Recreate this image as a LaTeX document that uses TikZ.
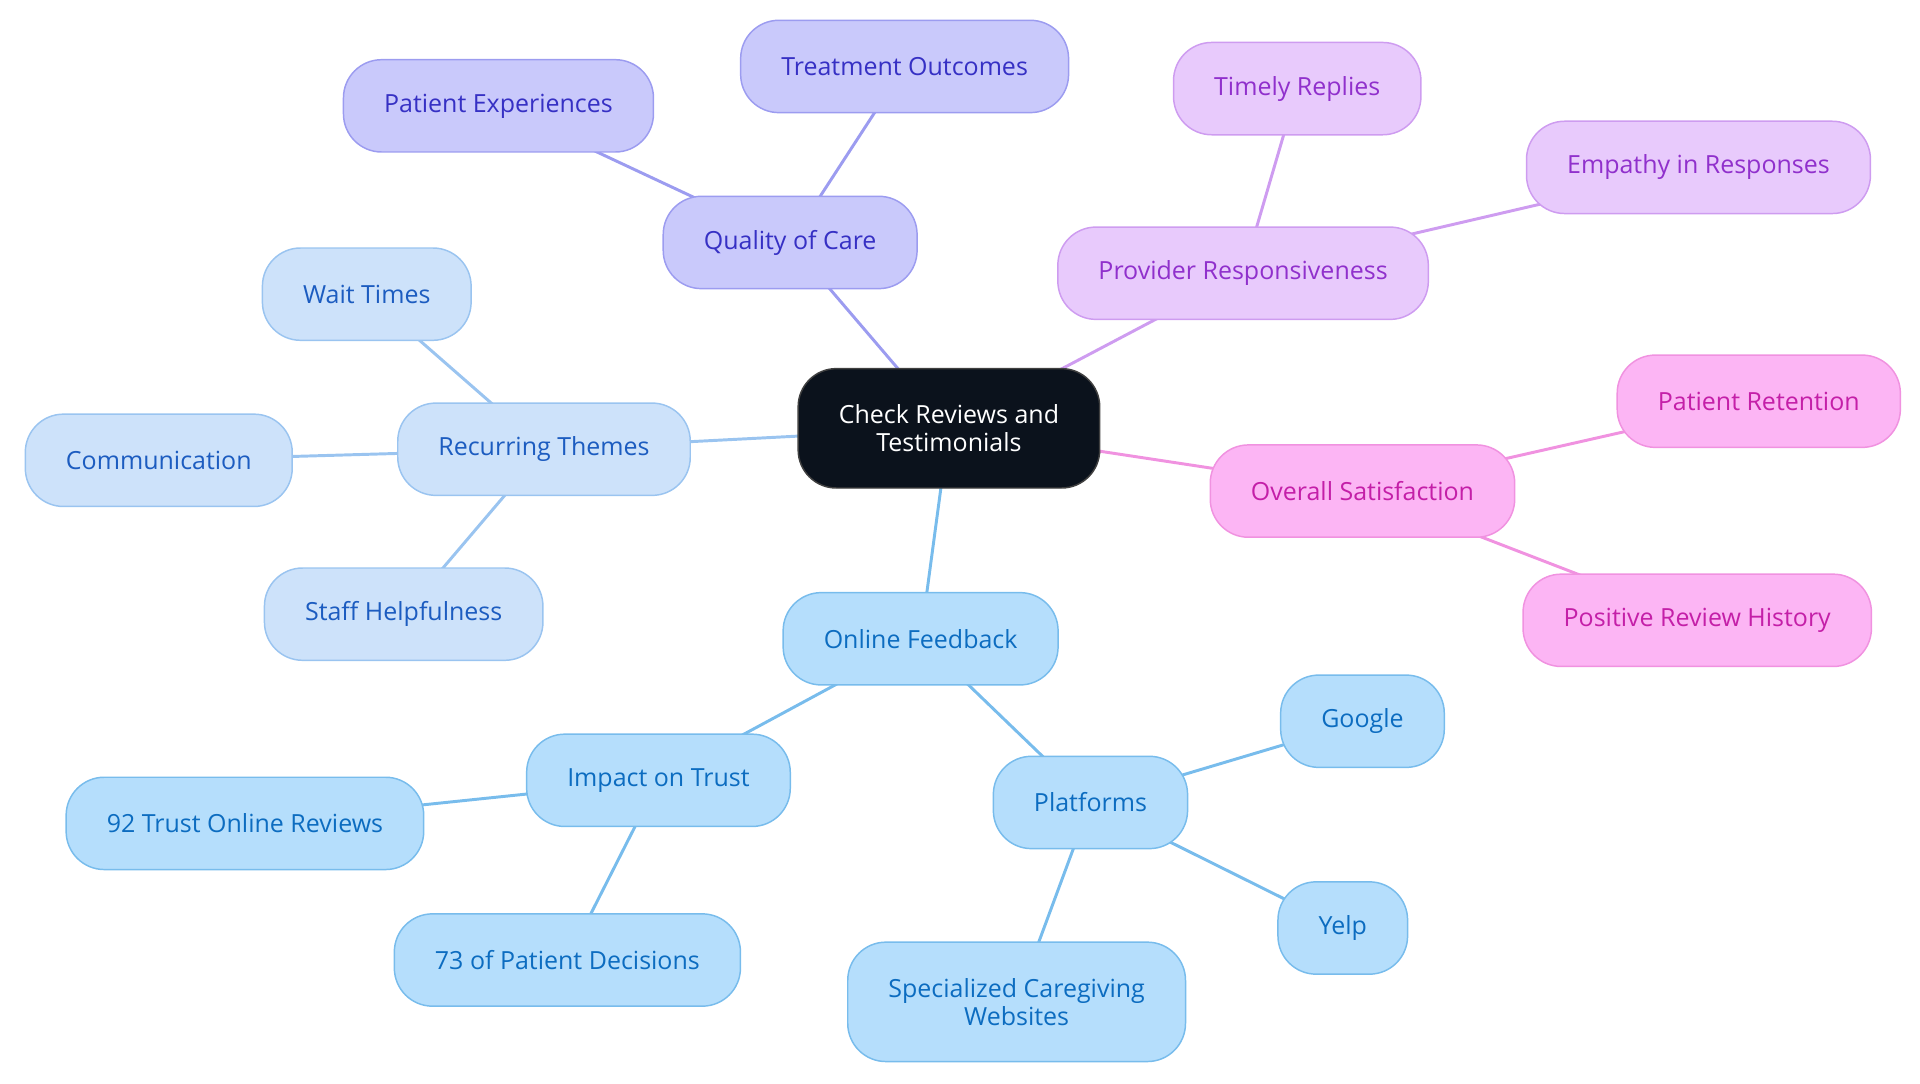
\documentclass[tikz,border=0pt]{standalone}
\usepackage{fontspec}
\setmainfont{Open Sans}
\usetikzlibrary{backgrounds}
\definecolor{qualfill}{HTML}{C9C9FB}
\definecolor{qualline}{HTML}{9C9CF0}
\definecolor{qualtext}{HTML}{3630C4}
\definecolor{provfill}{HTML}{E8CAFC}
\definecolor{provline}{HTML}{CE9CF0}
\definecolor{provtext}{HTML}{9030CC}
\definecolor{satfill}{HTML}{FCB5F4}
\definecolor{satline}{HTML}{F092E0}
\definecolor{sattext}{HTML}{C41FA8}
\definecolor{themefill}{HTML}{CDE2FA}
\definecolor{themeline}{HTML}{9AC4F0}
\definecolor{themetext}{HTML}{1C5CC0}
\definecolor{feedfill}{HTML}{B5DEFC}
\definecolor{feedline}{HTML}{78BCEC}
\definecolor{feedtext}{HTML}{0C6CC0}
\definecolor{rootfill}{HTML}{0B121C}
\begin{document}
\begin{tikzpicture}[x=1pt,y=-1pt,
  bubble/.style={rounded corners=31pt, line width=1.2pt, minimum height=75pt,
    inner xsep=33pt, align=center, font=\fontsize{20.3}{23}\selectfont},
  root/.style={bubble, fill=rootfill, draw=black!75, text=white, minimum height=97pt, inner xsep=33pt},
  qual/.style={bubble, fill=qualfill, draw=qualline, text=qualtext},
  prov/.style={bubble, fill=provfill, draw=provline, text=provtext},
  sat/.style={bubble, fill=satfill, draw=satline, text=sattext},
  theme/.style={bubble, fill=themefill, draw=themeline, text=themetext},
  feed/.style={bubble, fill=feedfill, draw=feedline, text=feedtext},
  link/.style={line width=2.4pt}]
\useasboundingbox (0,0) rectangle (1560,880);
% centre
\node[root] (check) at (771,348) {Check Reviews and\\Testimonials};
% quality of care
\node[qual] (quality) at (642,197) {Quality of Care};
\node[qual] (experiences) at (405,86) {Patient Experiences};
\node[qual] (outcomes) at (735,54) {Treatment Outcomes};
% provider responsiveness
\node[prov] (provider) at (1010,222) {Provider Responsiveness};
\node[prov] (replies) at (1054,72) {Timely Replies};
\node[prov] (empathy) at (1380,136) {Empathy in Responses};
% overall satisfaction
\node[sat] (satisfaction) at (1107,399) {Overall Satisfaction};
\node[sat] (retention) at (1429,326) {Patient Retention};
\node[sat] (history) at (1379,504) {Positive Review History};
% recurring themes
\node[theme] (themes) at (442,365) {Recurring Themes};
\node[theme] (wait) at (298,239) {Wait Times};
\node[theme] (communication) at (129,374) {Communication};
\node[theme] (staff) at (328,499) {Staff Helpfulness};
% online feedback
\node[feed] (online) at (748,519) {Online Feedback};
\node[feed] (trust) at (535,634) {Impact on Trust};
\node[feed] (trust92) at (199,669) {92 Trust Online Reviews};
\node[feed] (decisions73) at (461,780) {73 of Patient Decisions};
\node[feed] (platforms) at (886,652) {Platforms};
\node[feed] (google) at (1107,586) {Google};
\node[feed] (yelp) at (1091,754) {Yelp};
\node[feed, minimum height=97pt] (websites) at (826,814) {Specialized Caregiving\\Websites};
\begin{scope}[on background layer]
\draw[link, qualline] (check.center) -- (quality.center);
\draw[link, qualline] (quality.center) -- (experiences.center);
\draw[link, qualline] (quality.center) -- (outcomes.center);
\draw[link, provline] (check.center) -- (provider.center);
\draw[link, provline] (provider.center) -- (replies.center);
\draw[link, provline] (provider.center) -- (empathy.center);
\draw[link, satline] (check.center) -- (satisfaction.center);
\draw[link, satline] (satisfaction.center) -- (retention.center);
\draw[link, satline] (satisfaction.center) -- (history.center);
\draw[link, themeline] (check.center) -- (themes.center);
\draw[link, themeline] (themes.center) -- (wait.center);
\draw[link, themeline] (themes.center) -- (communication.center);
\draw[link, themeline] (themes.center) -- (staff.center);
\draw[link, feedline] (check.center) -- (online.center);
\draw[link, feedline] (online.center) -- (trust.center);
\draw[link, feedline] (online.center) -- (platforms.center);
\draw[link, feedline] (trust.center) -- (trust92.center);
\draw[link, feedline] (trust.center) -- (decisions73.center);
\draw[link, feedline] (platforms.center) -- (google.center);
\draw[link, feedline] (platforms.center) -- (yelp.center);
\draw[link, feedline] (platforms.center) -- (websites.center);
\end{scope}
\end{tikzpicture}
\end{document}
